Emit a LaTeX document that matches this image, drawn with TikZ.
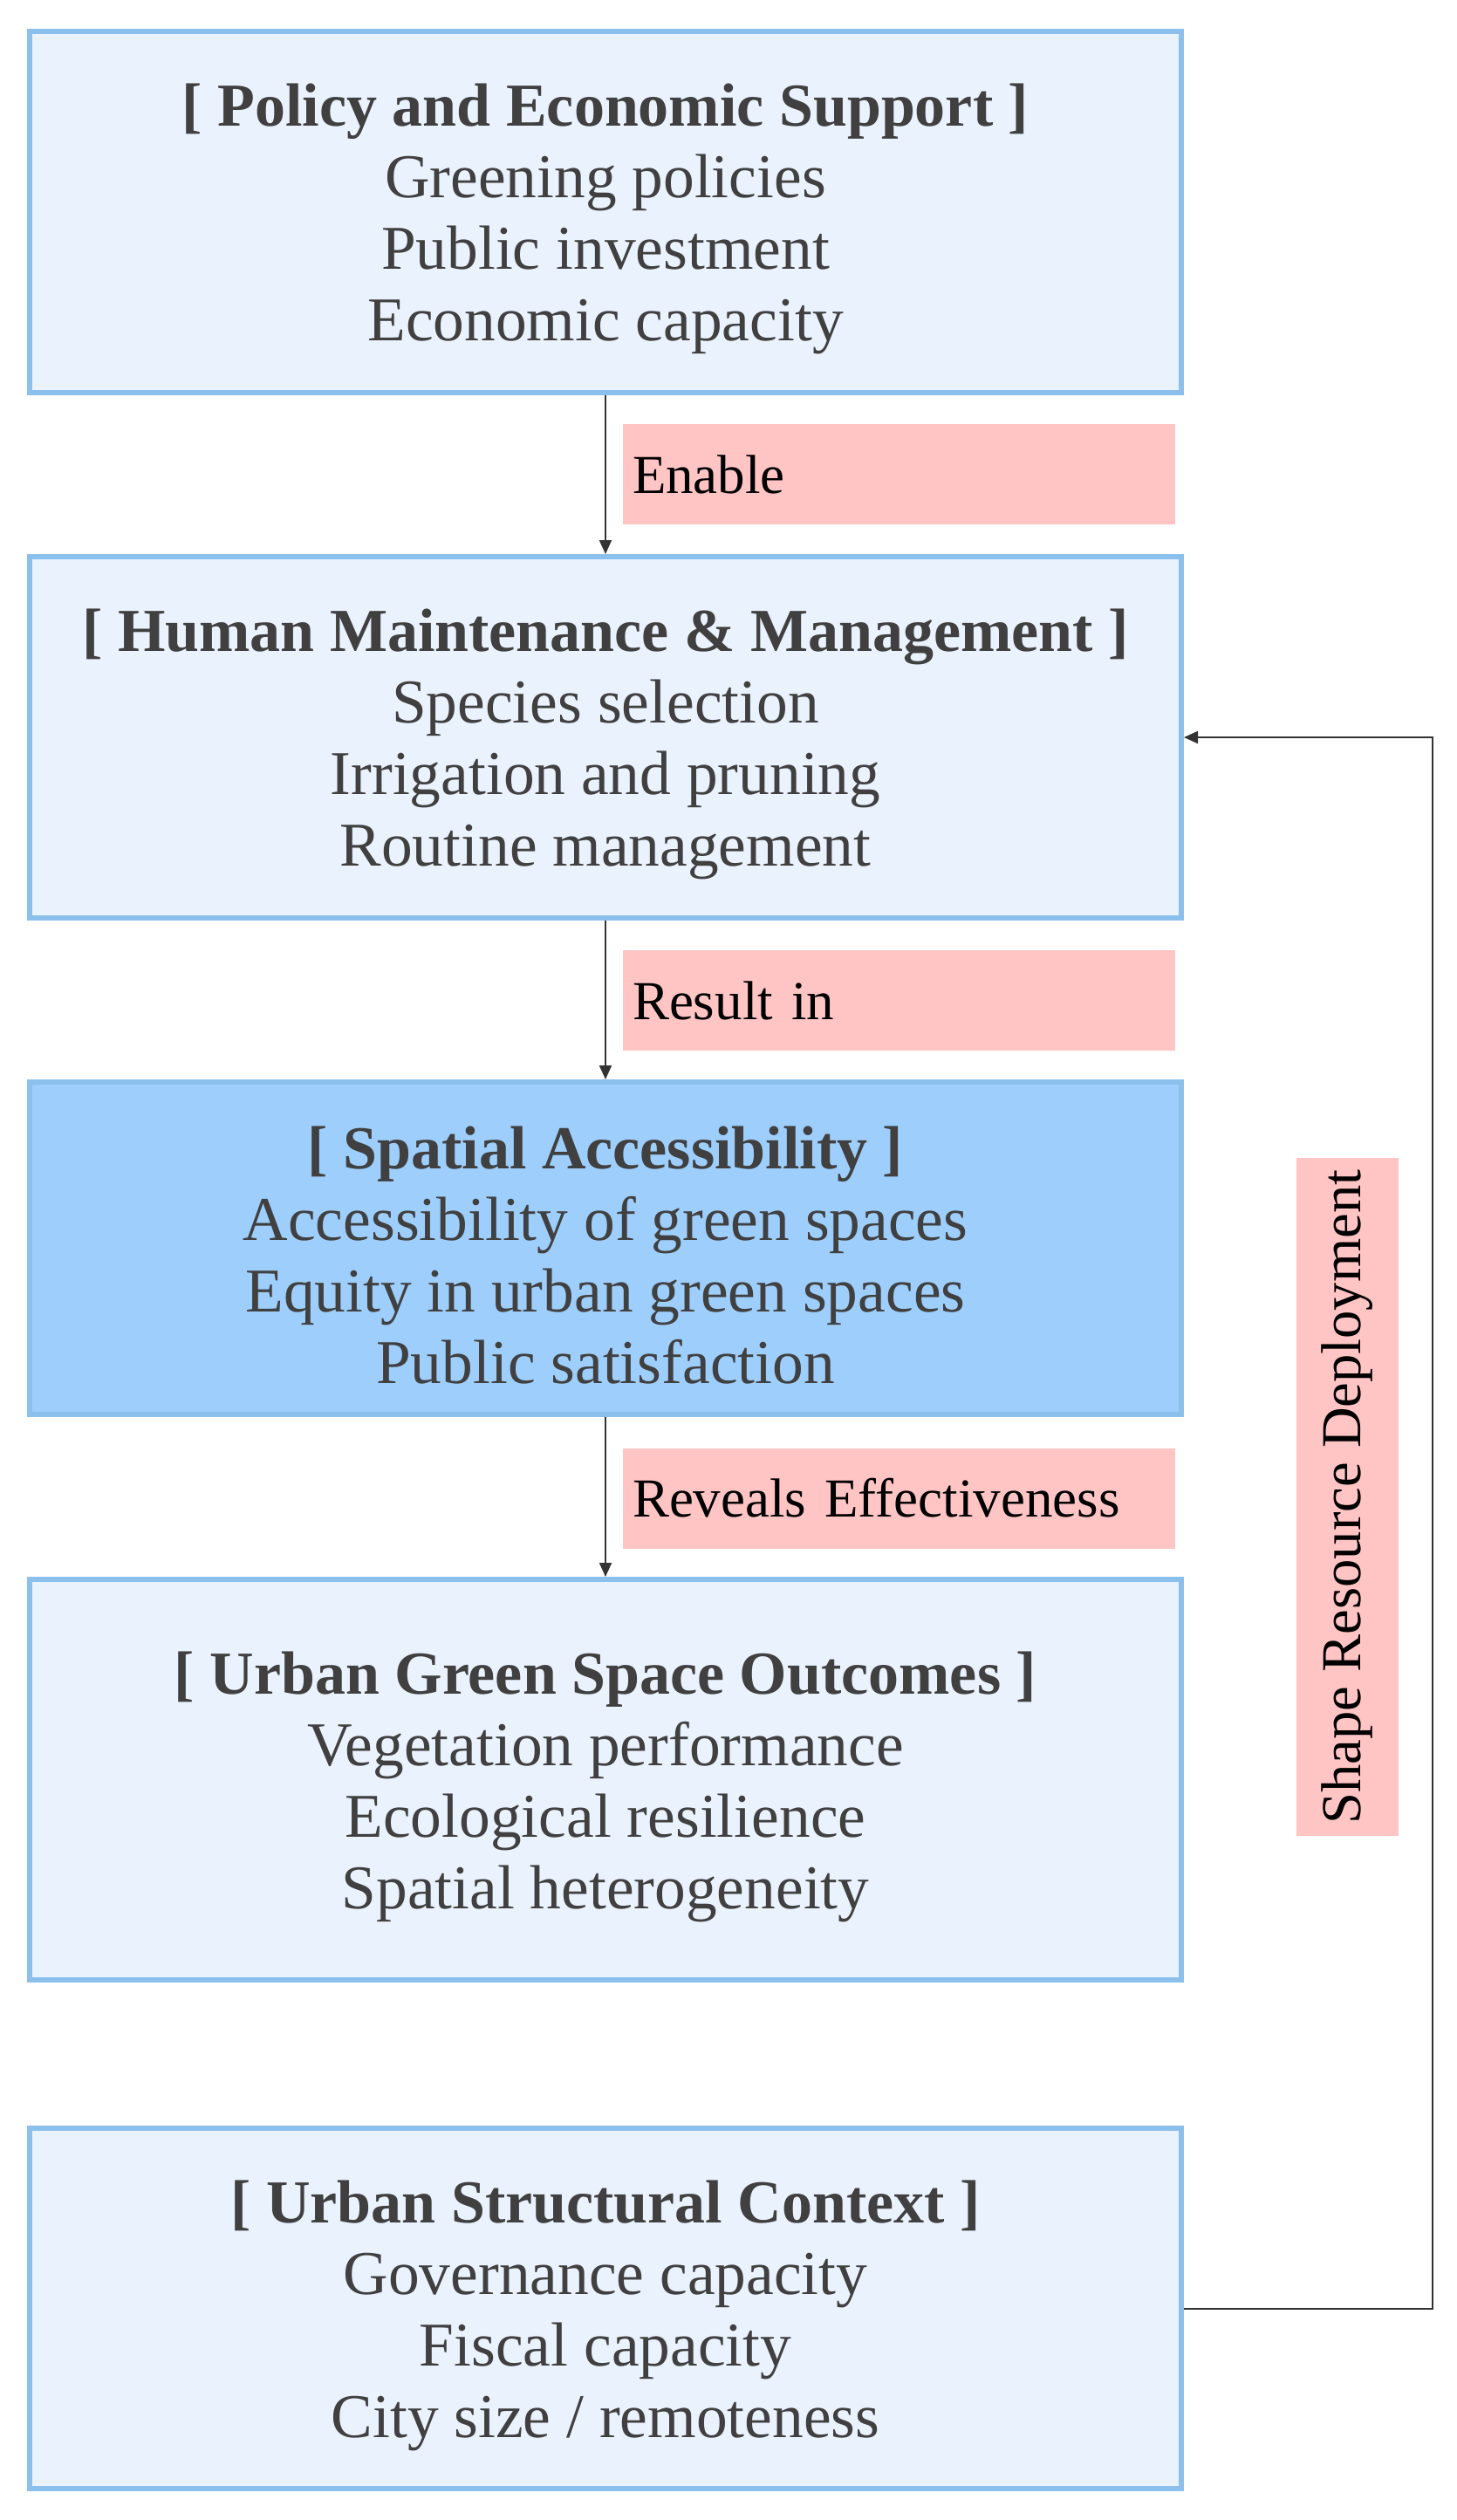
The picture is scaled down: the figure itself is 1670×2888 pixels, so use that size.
\documentclass[tikz,border=0pt]{standalone}
\usepackage{fontspec}
\setmainfont{Liberation Serif}
\usetikzlibrary{arrows.meta}
\definecolor{boxfill}{HTML}{EAF2FE}
\definecolor{boxedge}{HTML}{8CC0EC}
\definecolor{keyfill}{HTML}{9ECEFC}
\definecolor{labfill}{HTML}{FFC4C4}
\definecolor{txtgray}{HTML}{404040}
\definecolor{linegray}{HTML}{333333}
\newcommand{\hd}[1]{{\fontsize{35}{41}\selectfont\bfseries #1}}
\tikzset{
  mainbox/.style={draw=boxedge, line width=3pt, fill=boxfill, minimum width=660pt, inner sep=0pt},
  boxtext/.style={text=txtgray, align=center, font=\fontsize{35.7}{41}\selectfont, inner sep=0pt, yshift=-4pt},
  hlab/.style={fill=labfill, minimum height=57.5pt, text width=305.5pt, inner xsep=5.5pt,
    inner ysep=0pt, align=left, font=\fontsize{31.5}{36}\selectfont, text=black},
  vlab/.style={fill=labfill, minimum width=388.5pt, minimum height=58.5pt, inner sep=0pt,
    align=center, font=\fontsize{32.3}{36}\selectfont, text=black, rotate=90},
  flowline/.style={draw=linegray, line width=1pt, -{Triangle[length=8pt,width=7pt]}}
}
\begin{document}
\begin{tikzpicture}[x=0.5pt,y=-0.5pt]
\useasboundingbox (0,0) rectangle (1670,2888);
\node[mainbox, minimum height=207pt] (B1) at (694,243) {};
\node[mainbox, minimum height=207pt] (B2) at (694,845) {};
\node[mainbox, fill=keyfill, minimum height=190.5pt] (B3) at (694,1430.5) {};
\node[mainbox, minimum height=229.5pt] (B4) at (694,2039.5) {};
\node[mainbox, minimum height=206.5pt] (B5) at (694,2645.5) {};

\node[boxtext] (T1) at (B1.center)
  {\hd{[ Policy and Economic Support ]}\\Greening policies\\Public investment\\Economic capacity};
\node[boxtext] (T2) at (B2.center)
  {\hd{[ Human Maintenance \& Management ]}\\Species selection\\Irrigation and pruning\\Routine management};
\node[boxtext] (T3) at (B3.center)
  {\hd{[ Spatial Accessibility ]}\\Accessibility of green spaces\\Equity in urban green spaces\\Public satisfaction};
\node[boxtext] (T4) at (B4.center)
  {\hd{[ Urban Green Space Outcomes ]}\\Vegetation performance\\Ecological resilience\\Spatial heterogeneity};
\node[boxtext] (T5) at (B5.center)
  {\hd{[ Urban Structural Context ]}\\Governance capacity\\Fiscal capacity\\City size / remoteness};

\node[hlab] (L1) at (1030.5,543.5) {Enable};
\node[hlab] (L2) at (1030.5,1146.5) {Result in};
\node[hlab] (L3) at (1030.5,1717) {Reveals Effectiveness};
\node[vlab] (L4) at (1544.5,1715.5) {Shape Resource Deployment};

\draw[flowline] (B1.south) -- (B2.north);
\draw[flowline] (B2.south) -- (B3.north);
\draw[flowline] (B3.south) -- (B4.north);
\coordinate (fb) at (1642,2645.5);
\draw[flowline] (B5.east) -- (fb) |- (B2.east);
\end{tikzpicture}
\end{document}
